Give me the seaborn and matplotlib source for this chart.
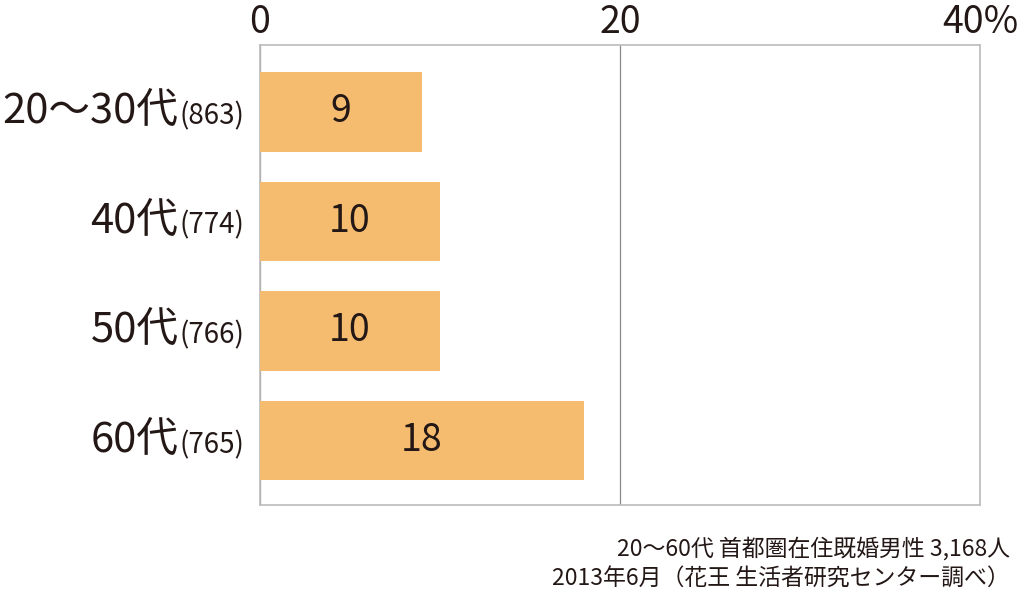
import matplotlib
matplotlib.use("Agg")
import matplotlib.pyplot as plt
import seaborn as sns
import pandas as pd

categories = ["20～30代", "40代", "50代", "60代"]
sample_sizes = ["(863)", "(774)", "(766)", "(765)"]
values = [9, 10, 10, 18]
x_ticks = [0, 20, 40]
x_tick_labels = ["0", "20", "40%"]
note_lines = ["20～60代 首都圏在住既婚男性 3,168人",
              "2013年6月（花王 生活者研究センター調べ）"]

sns.set_theme(style="white")
plt.rcParams['font.family'] = ['Noto Sans CJK JP', 'DejaVu Sans']
TXT = "#231815"
BAR = "#F5BC70"

df = pd.DataFrame({"cat": categories, "val": values})

fig = plt.figure(figsize=(10.24, 5.98), dpi=100)
ax = fig.add_axes([260/1024, 1-505/598, 720/1024, 460/598])

sns.barplot(data=df, x="val", y="cat", orient="h", color=BAR, saturation=1,
            width=0.727, ax=ax, zorder=3, linewidth=0, edgecolor="none")

ax.set_xlim(0, 40)
ax.set_ylim(3.59, -0.61)
ax.set_xlabel("")
ax.set_ylabel("")
ax.xaxis.tick_top()
ax.set_xticks(x_ticks)
ax.set_xticklabels(x_tick_labels, fontsize=27, color=TXT)
ax.tick_params(axis="x", length=0, pad=2)
ax.set_yticks(range(len(categories)))
ax.set_yticklabels([])
ax.tick_params(axis="y", length=0)
ax.grid(axis="x", color="#888888", linewidth=0.9, zorder=0)
ax.grid(axis="y", visible=False)
for s in ax.spines.values():
    s.set_color("#bbbbbb")
    s.set_linewidth(1.2)

for c in ax.containers:
    ax.bar_label(c, labels=[str(v) for v in values], label_type="center",
                 fontsize=27, color=TXT)

fig.canvas.draw()
renderer = fig.canvas.get_renderer()
for i, (cat, n) in enumerate(zip(categories, sample_sizes)):
    small = ax.annotate(n, xy=(0, i), xycoords=("axes fraction", "data"),
                        xytext=(-11, -9), textcoords="offset points",
                        ha="right", va="baseline", fontsize=20, color=TXT)
    bb = small.get_window_extent(renderer)
    w_pt = bb.width * 72 / fig.dpi
    ax.annotate(cat, xy=(0, i), xycoords=("axes fraction", "data"),
                xytext=(-11 - w_pt - 1, -9), textcoords="offset points",
                ha="right", va="baseline", fontsize=30, color=TXT)

fig.text(1010/1024, 1-549/598, note_lines[0], ha="right", va="center",
         fontsize=16.5, color=TXT)
fig.text(1010/1024, 1-578/598, note_lines[1], ha="right", va="center",
         fontsize=16.5, color=TXT)

fig.savefig("out.png", dpi=100)
